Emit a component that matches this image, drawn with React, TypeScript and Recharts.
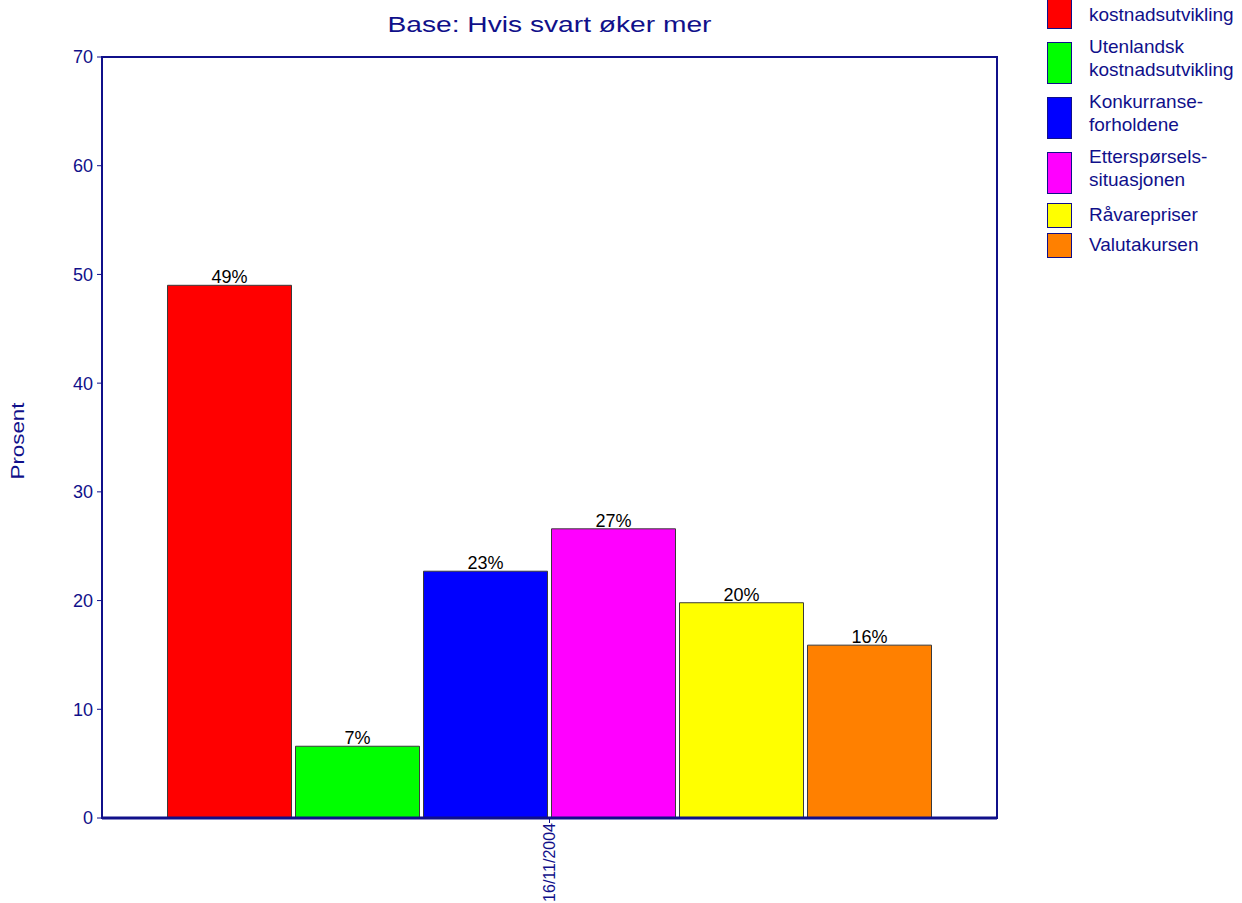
import { BarChart, Bar, XAxis, YAxis, LabelList, ReferenceArea } from "recharts";

const CATEGORIES = ["16/11/2004"];
const SERIES_NAMES = [
  "Norsk kostnadsutvikling",
  "Utenlandsk kostnadsutvikling",
  "Konkurranseforholdene",
  "Etterspørselssituasjonen",
  "Råvarepriser",
  "Valutakursen",
];
const LEGEND_LINES = [
  ["Norsk", "kostnadsutvikling"],
  ["Utenlandsk", "kostnadsutvikling"],
  ["Konkurranse-", "forholdene"],
  ["Etterspørsels-", "situasjonen"],
  ["Råvarepriser"],
  ["Valutakursen"],
];
const SERIES_COLORS = ["#ff0000", "#00ff00", "#0000ff", "#ff00ff", "#ffff00", "#ff8000"];
// one value per series for the single date
const SERIES_VALUES = [49.0, 6.6, 22.7, 26.6, 19.8, 15.9];
const Y_TICKS = [0, 10, 20, 30, 40, 50, 60, 70];

const NAVY = "#10108a";
const FONT = "'Liberation Sans', Arial, sans-serif";

const data = CATEGORIES.map((date) => {
  const row: Record<string, string | number> = { date };
  SERIES_NAMES.forEach((name, i) => {
    row[`s${i}`] = SERIES_VALUES[i];
  });
  return row;
});

function DateTick({ x, y, payload }: any) {
  return (
    <g transform={`translate(${x},${y})`}>
      <text
        transform="rotate(-90)"
        x={0}
        y={0}
        dy="0.35em"
        textAnchor="end"
        fill={NAVY}
        fontSize={16}
        fontFamily={FONT}
      >
        {payload.value}
      </text>
    </g>
  );
}

function Legendbox() {
  let top = -13;
  return (
    <div style={{ position: "absolute", left: 1047, top: 0, width: 195 }}>
      {LEGEND_LINES.map((lines, i) => {
        const two = lines.length > 1;
        const h = two ? 42 : 25;
        const itemTop = top;
        const next = LEGEND_LINES[i + 1];
        top += h + (two ? (next && next.length === 1 ? 9 : 13) : 5);
        return (
          <div key={SERIES_NAMES[i]} style={{ position: "absolute", left: 0, top: itemTop }}>
            <div
              style={{
                position: "absolute",
                left: 0,
                top: 0,
                width: 25,
                height: h,
                boxSizing: "border-box",
                border: `1px solid ${NAVY}`,
                background: SERIES_COLORS[i],
              }}
            />
            <div
              style={{
                position: "absolute",
                left: 42,
                top: two ? -7 : 0,
                fontSize: 19,
                lineHeight: "23px",
                color: NAVY,
                whiteSpace: "nowrap",
                fontFamily: FONT,
              }}
            >
              {lines.map((l) => (
                <div key={l}>{l}</div>
              ))}
            </div>
          </div>
        );
      })}
    </div>
  );
}

export default function App() {
  return (
    <div
      style={{
        position: "absolute",
        left: 0,
        top: 0,
        width: 1242,
        height: 903,
        overflow: "hidden",
        background: "#fff",
        fontFamily: FONT,
      }}
    >
      <div
        style={{
          position: "absolute",
          left: 102,
          width: 895,
          top: 13,
          textAlign: "center",
          fontSize: 22,
          lineHeight: "23px",
          color: NAVY,
          transform: "scaleX(1.28)",
          transformOrigin: "center",
        }}
      >
        Base: Hvis svart øker mer
      </div>
      <BarChart
        width={1242}
        height={903}
        data={data}
        margin={{ top: 57, right: 245, bottom: 0, left: 0 }}
        barCategoryGap={65.5}
        barGap={4}
      >
        <XAxis
          dataKey="date"
          height={85}
          axisLine={{ stroke: NAVY, strokeWidth: 3 }}
          tickLine={{ stroke: NAVY }}
          tickSize={5}
          tickMargin={0}
          tick={<DateTick />}
          interval={0}
        />
        <YAxis
          width={102}
          domain={[0, 70]}
          ticks={Y_TICKS}
          interval={0}
          axisLine={{ stroke: NAVY, strokeWidth: 2 }}
          tickLine={{ stroke: NAVY }}
          tickSize={5}
          tickMargin={4}
          tick={{ fill: NAVY, fontSize: 18, fontFamily: FONT }}
          label={{
            content: () => (
              <text
                x={18}
                y={441}
                transform="rotate(-90 18 441)"
                textAnchor="middle"
                dominantBaseline="central"
                fill={NAVY}
                fontSize={18}
                fontFamily={FONT}
                textLength={77}
                lengthAdjust="spacingAndGlyphs"
              >
                Prosent
              </text>
            ),
          }}
        />
        <ReferenceArea
          y1={0}
          y2={70}
          fill="none"
          fillOpacity={0}
          stroke={NAVY}
          strokeWidth={2}
          ifOverflow="visible"
        />
        {SERIES_NAMES.map((name, i) => (
          <Bar
            key={name}
            dataKey={`s${i}`}
            name={name}
            fill={SERIES_COLORS[i]}
            stroke="#3a3a3a"
            strokeWidth={1}
            isAnimationActive={false}
          >
            <LabelList
              dataKey={`s${i}`}
              position="top"
              offset={2}
              formatter={(v: any) => `${Math.round(Number(v))}%`}
              style={{ fill: "#000", fontSize: 18, fontFamily: FONT }}
            />
          </Bar>
        ))}
      </BarChart>
      <Legendbox />
    </div>
  );
}
